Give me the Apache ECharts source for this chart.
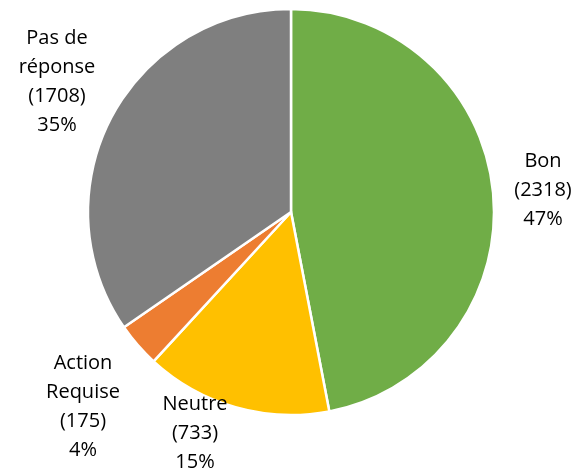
<!DOCTYPE html>
<html><head><meta charset="utf-8">
<script src="https://cdn.jsdelivr.net/npm/echarts@6/dist/echarts.min.js"></script>
<style>html,body{margin:0;padding:0;background:#fff}#c{width:577px;height:473px}</style>
</head><body><div id="c"></div>
<script>
const categories = ['Bon', 'Neutre', 'Action\nRequise', 'Pas de\nréponse'];
const values = [2318, 733, 175, 1708];
const percents = ['47%', '15%', '4%', '35%'];
const colors = ['#70AD47', '#FFC000', '#ED7D31', '#7F7F7F'];
const labelPos = [[543, 190], [195, 433], [83, 407], [57, 82]];

const chart = echarts.init(document.getElementById('c'));
chart.setOption({
  animation: false,
  series: [{
    type: 'pie',
    center: [291, 212],
    radius: [0, 203],
    startAngle: 90,
    clockwise: true,
    data: categories.map((n, i) => ({name: n, value: values[i], itemStyle: {color: colors[i]}})),
    itemStyle: {borderColor: '#fff', borderWidth: 2.5},
    label: {
      show: true,
      position: 'outside',
      alignTo: 'none',
      overflow: 'none',
      formatter: p => p.name + '\n(' + p.value + ')\n' + percents[p.dataIndex],
      fontFamily: 'Open Sans',
      fontSize: 20,
      lineHeight: 29,
      color: '#000',
      align: 'center'
    },
    labelLine: {show: false},
    labelLayout: p => ({x: labelPos[p.dataIndex][0], y: labelPos[p.dataIndex][1], align: 'center', verticalAlign: 'middle', width: 200})
  }]
});
</script></body></html>
